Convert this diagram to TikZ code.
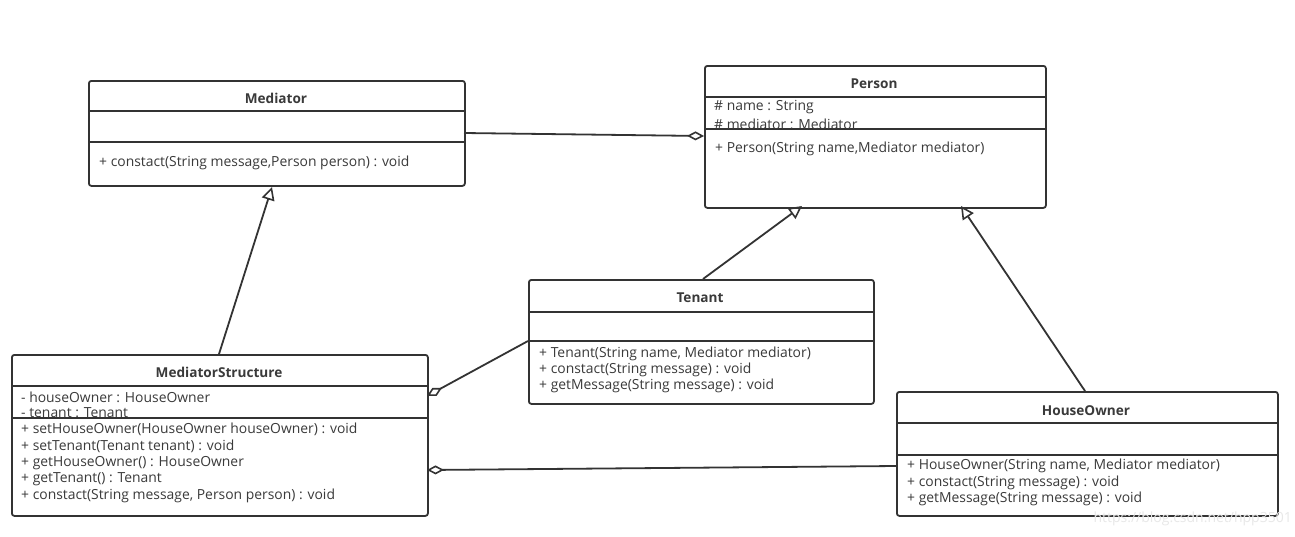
\documentclass[tikz,border=0pt]{standalone}
\usepackage{fontspec}
\setmainfont{Open Sans}
\usetikzlibrary{arrows.meta}
\definecolor{ln}{HTML}{333333}
\definecolor{tx}{HTML}{3A3A3A}
\tikzset{
  cls/.style={draw=ln, line width=1.8pt, rounded corners=2.5pt, fill=white, inner sep=0pt, anchor=north west},
  dvd/.style={draw=ln, line width=1.8pt},
  ttl/.style={font=\fontsize{13.6}{15}\selectfont\bfseries, text=tx, inner sep=0pt, yshift=-1.5pt},
  mem/.style={font=\fontsize{13.9}{15}\selectfont, text=tx, inner sep=0pt, anchor=west, yshift=-2pt},
  conn/.style={draw=ln, line width=1.8pt},
  agg/.style={conn, {Diamond[open, length=17pt, width=9pt, line width=1.6pt]}-},
  inh/.style={conn, -{Triangle[open, length=13pt, width=13pt, line width=1.6pt]}}
}
\begin{document}
\begin{tikzpicture}[x=1pt,y=-1pt]
\useasboundingbox (0,0) rectangle (1295,536);
\fill[white] (0,0) rectangle (1295,536);

% Mediator
\node[cls, minimum width=376pt, minimum height=105pt] (med) at (88,80) {};
\draw[dvd] (88,111) -- (464,111);
\draw[dvd] (88,142) -- (464,142);
\node[ttl] (medt) at (276,97) {Mediator};
\node[mem] (medm1) at (99,161) {+ constact(String message,Person person) : void};

% Person
\node[cls, minimum width=341pt, minimum height=142pt] (per) at (704,65) {};
\draw[dvd] (704,97) -- (1045,97);
\draw[dvd] (704,129) -- (1045,129);
\node[ttl] (pert) at (874,82) {Person};
\node[mem] (pera1) at (714,105) {\# name : String};
\node[mem] (pera2) at (714,122) {\# mediator : Mediator};
\node[mem] (perm1) at (715,147) {+ Person(String name,Mediator mediator)};

% Tenant
\node[cls, minimum width=345pt, minimum height=124pt] (ten) at (528,279) {};
\draw[dvd] (528,312) -- (873,312);
\draw[dvd] (528,341) -- (873,341);
\node[ttl] (tent) at (700,296) {Tenant};
\node[mem] (tenm1) at (539,352) {+ Tenant(String name, Mediator mediator)};
\node[mem] (tenm2) at (539,368) {+ constact(String message) : void};
\node[mem] (tenm3) at (539,384) {+ getMessage(String message) : void};

% MediatorStructure
\node[cls, minimum width=416pt, minimum height=161pt] (ms) at (11,354) {};
\draw[dvd] (11,386) -- (427,386);
\draw[dvd] (11,418) -- (427,418);
\node[ttl] (mst) at (219,371) {MediatorStructure};
\node[mem] (msa1) at (21,395) {- houseOwner : HouseOwner};
\node[mem] (msa2) at (21,411) {- tenant : Tenant};
\node[mem] (msm1) at (21,427) {+ setHouseOwner(HouseOwner houseOwner) : void};
\node[mem] (msm2) at (21,444) {+ setTenant(Tenant tenant) : void};
\node[mem] (msm3) at (21,461) {+ getHouseOwner() : HouseOwner};
\node[mem] (msm4) at (21,477) {+ getTenant() : Tenant};
\node[mem] (msm5) at (21,494) {+ constact(String message, Person person) : void};

% HouseOwner
\node[cls, minimum width=381pt, minimum height=124pt] (ho) at (896,391) {};
\draw[dvd] (896,423) -- (1277,423);
\draw[dvd] (896,455) -- (1277,455);
\node[ttl] (hot) at (1086,409) {HouseOwner};
\node[mem] (hom1) at (907,464) {+ HouseOwner(String name, Mediator mediator)};
\node[mem] (hom2) at (907,481) {+ constact(String message) : void};
\node[mem] (hom3) at (907,497) {+ getMessage(String message) : void};

% watermark
\node[font=\fontsize{14}{15}\selectfont, text=black!9, inner sep=0pt, anchor=east] (wm) at (1292,519) {https://blog.csdn.net/hpp3501};

% anchor coordinates for connectors
\coordinate (perL) at (704,136);
\coordinate (medR) at (464,133);
\coordinate (medB) at (272,187);
\coordinate (msT) at (219,354);
\coordinate (perB1) at (802,206);
\coordinate (tenT) at (703,279);
\coordinate (perB2) at (961,206);
\coordinate (hoT) at (1085,391);
\coordinate (msR1) at (427,396);
\coordinate (tenL) at (528,341);
\coordinate (msR2) at (427,470);
\coordinate (hoL) at (896,466);

\draw[agg] (perL) -- (medR);
\draw[inh] (msT) -- (medB);
\draw[inh] (tenT) -- (perB1);
\draw[inh] (hoT) -- (perB2);
\draw[agg] (msR1) -- (tenL);
\draw[agg] (msR2) -- (hoL);
\end{tikzpicture}
\end{document}
